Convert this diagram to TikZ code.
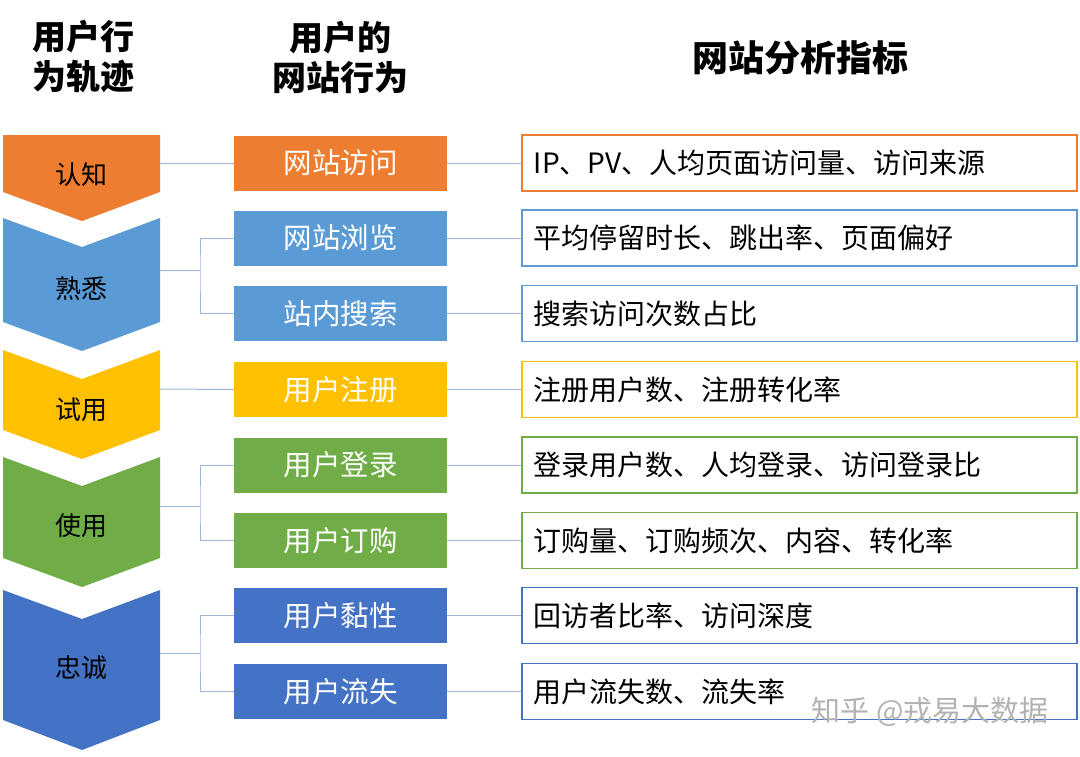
\documentclass[tikz,border=0pt]{standalone}
\usepackage{fontspec}
\setmainfont{Noto Sans CJK SC}
\definecolor{cO}{HTML}{ED7D31}
\definecolor{cB}{HTML}{5B9BD5}
\definecolor{cY}{HTML}{FFC000}
\definecolor{cG}{HTML}{70AD47}
\definecolor{cD}{HTML}{4472C4}
\definecolor{lk}{HTML}{9DB8D6}
\begin{document}
\begin{tikzpicture}[x=1pt,y=-1pt,
  mid/.style={minimum width=213pt,minimum height=55pt,inner sep=0,text=white,font=\fontsize{28.5}{30}\selectfont},
  met/.style={draw=#1,line width=1.6pt,minimum width=555pt,minimum height=56pt,inner sep=0,anchor=west,text width=531pt,align=left,font=\fontsize{28}{30}\selectfont},
  lab/.style={font=\fontsize{26}{28}\selectfont},
  hdr/.style={font=\bfseries\fontsize{34}{40}\selectfont,align=center},
  lnk/.style={draw=lk,line width=1pt}]
\useasboundingbox (0,0) rectangle (1080,756);
\fill[white] (0,0) rectangle (1080,756);
% headers
\node[hdr] (h1) at (83,57) {用户行\\为轨迹};
\node[hdr] (h2) at (340,57) {用户的\\网站行为};
\node[hdr,font=\bfseries\fontsize{36}{40}\selectfont] (h3) at (800,58) {网站分析指标};
% chevrons
\fill[cO] (3,135) -- (160,135) -- (160,192) -- (82,221) -- (3,192) -- cycle;
\fill[cB] (3,218) -- (82,247) -- (160,218) -- (160,322) -- (82,351) -- (3,322) -- cycle;
\fill[cY] (3,350) -- (82,379) -- (160,350) -- (160,430) -- (82,459) -- (3,430) -- cycle;
\fill[cG] (3,457) -- (82,486) -- (160,457) -- (160,558) -- (82,587) -- (3,558) -- cycle;
\fill[cD] (3,590) -- (82,619) -- (160,590) -- (160,720) -- (82,750) -- (3,720) -- cycle;
\node[lab] (c1) at (82,175) {认知};
\node[lab] (c2) at (82,288) {熟悉};
\node[lab] (c3) at (82,410) {试用};
\node[lab] (c4) at (82,526) {使用};
\node[lab] (c5) at (82,668) {忠诚};
\coordinate (e1) at (160,163);
\coordinate (e2) at (160,270);
\coordinate (e3) at (160,389);
\coordinate (e4) at (160,506);
\coordinate (e5) at (160,653);
% middle
\node[mid,fill=cO] (m1) at (340.5,163) {网站访问};
\node[mid,fill=cB] (m2) at (340.5,238) {网站浏览};
\node[mid,fill=cB] (m3) at (340.5,313.5) {站内搜索};
\node[mid,fill=cY] (m4) at (340.5,389.5) {用户注册};
\node[mid,fill=cG] (m5) at (340.5,465) {用户登录};
\node[mid,fill=cG] (m6) at (340.5,540.5) {用户订购};
\node[mid,fill=cD] (m7) at (340.5,615.5) {用户黏性};
\node[mid,fill=cD] (m8) at (340.5,691.5) {用户流失};
% metrics
\node[met=cO] (r1) at (521,163) {IP、PV、人均页面访问量、访问来源};
\node[met=cB] (r2) at (521,238) {平均停留时长、跳出率、页面偏好};
\node[met=cB] (r3) at (521,313.5) {搜索访问次数占比};
\node[met=cY] (r4) at (521,389.5) {注册用户数、注册转化率};
\node[met=cG] (r5) at (521,465) {登录用户数、人均登录、访问登录比};
\node[met=cG] (r6) at (521,540.5) {订购量、订购频次、内容、转化率};
\node[met=cD] (r7) at (521,615.5) {回访者比率、访问深度};
\node[met=cD] (r8) at (521,691.5) {用户流失数、流失率};
% links
\draw[lnk] (e1) -- (m1.west);
\draw[lnk] (e2) -- (200,270) (m2.west) -| (200,270) |- (m3.west);
\draw[lnk] (e3) -- (m4.west);
\draw[lnk] (e4) -- (200,506) (m5.west) -| (200,506) |- (m6.west);
\draw[lnk] (e5) -- (200,653) (m7.west) -| (200,653) |- (m8.west);
\foreach \i in {1,...,8} \draw[lnk] (m\i.east) -- (r\i.west);
\node[text=black!30,font=\fontsize{29}{30}\selectfont,anchor=east] (wm) at (1052,712) {知乎 @戎易大数据};
\end{tikzpicture}
\end{document}
